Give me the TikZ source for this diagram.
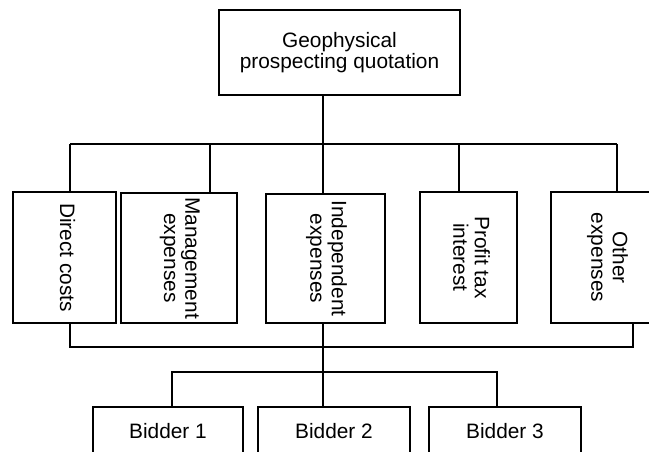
\documentclass[tikz,border=0pt]{standalone}
\usepackage{fontspec}
\setmainfont{Liberation Sans}
\usepackage{tikz}

\begin{document}
\begin{tikzpicture}[x=0.03cm, y=-0.03cm, line width=1.6pt,
  box/.style={draw, inner sep=0pt, align=center, font=\fontsize{17.8}{18.2}\selectfont}]
% Define constants
\def\px{0.03cm}
\def\vtext#1{\rotatebox{-90}{\begin{tabular}{@{}c@{}}#1\end{tabular}}}

\useasboundingbox (0,0) rectangle (649,452);
\clip (0,0) rectangle (649,452);

% Draw the boxes
\node[box, minimum width=241*\px, minimum height=85*\px] (Quote) at (339.5,52.5) {Geophysical\\prospecting quotation};

\node[box, minimum width=103*\px, minimum height=131*\px] (Direct) at (64.5,257.5) {\vtext{Direct costs}};
\node[box, minimum width=116*\px, minimum height=130*\px] (Manage) at (179,258) {\vtext{Management\\expenses}};
\node[box, minimum width=119*\px, minimum height=129*\px] (Indep) at (325.5,258.5) {\vtext{Independent\\expenses}};
\node[box, minimum width=97*\px, minimum height=131*\px] (Profit) at (468.5,257.5) {\vtext{Profit tax\\interest}};
\node[box, minimum width=111*\px, minimum height=131*\px] (Other) at (606.5,257.5) {\vtext{Other\\expenses}};

\node[box, minimum width=150*\px, minimum height=48*\px] (Bidder1) at (168,431) {Bidder 1};
\node[box, minimum width=152*\px, minimum height=48*\px] (Bidder2) at (334,431) {Bidder 2};
\node[box, minimum width=152*\px, minimum height=48*\px] (Bidder3) at (505,431) {Bidder 3};

% Coordinates for the buses
\coordinate (QuoteFoot) at (323,144);
\coordinate (DirectTop) at (70,144);
\coordinate (ManageTop) at (210,144);
\coordinate (ProfitTop) at (459,144);
\coordinate (OtherTop) at (617,144);
\coordinate (LowLeft) at (70,347);
\coordinate (LowRight) at (633,347);
\coordinate (Hub) at (323,372);
\coordinate (BidLeft) at (172,372);
\coordinate (BidRight) at (497,372);

% Upper bus
\draw (Quote.south -| QuoteFoot) -- (QuoteFoot);
\draw (DirectTop) -- (OtherTop);
\draw (DirectTop) -- (DirectTop |- Direct.north);
\draw (ManageTop) -- (ManageTop |- Manage.north);
\draw (QuoteFoot) -- (Indep.north -| QuoteFoot);
\draw (ProfitTop) -- (ProfitTop |- Profit.north);
\draw (OtherTop) -- (OtherTop |- Other.north);

% Lower bus
\draw (Direct.south -| LowLeft) -- (LowLeft) -- (LowRight) -- (Other.south -| LowRight);

% Bidders
\draw (Indep.south -| Hub) -- (Bidder2.north -| Hub);
\draw (BidLeft |- Bidder1.north) -- (BidLeft) -- (BidRight) -- (BidRight |- Bidder3.north);

\end{tikzpicture}
\end{document}
